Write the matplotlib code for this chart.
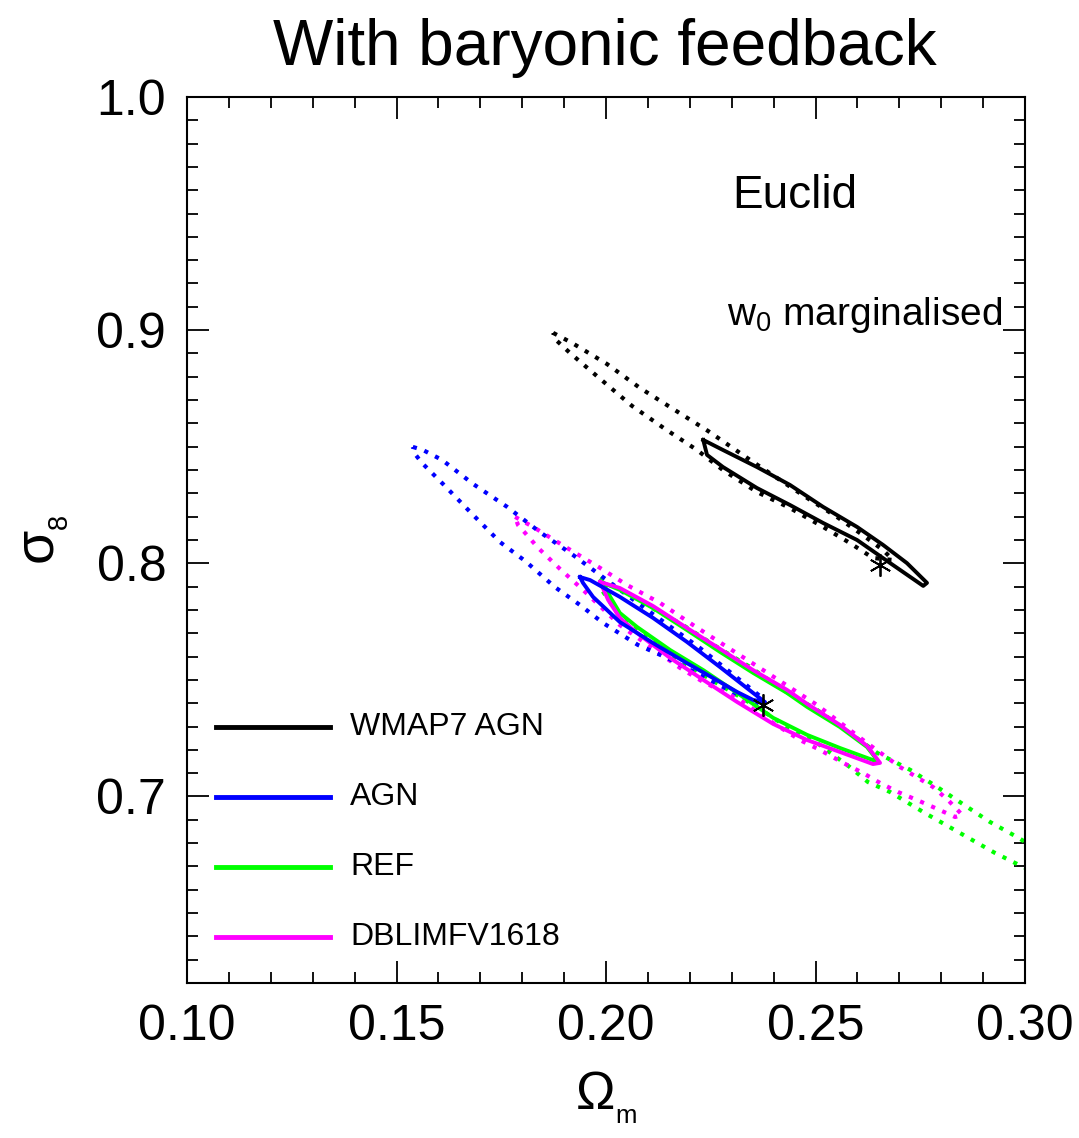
import numpy as np
import matplotlib
matplotlib.use('Agg')
import matplotlib.pyplot as plt
from matplotlib.ticker import MultipleLocator, FormatStrFormatter

plt.rcParams['font.family'] = ['Liberation Sans', 'DejaVu Sans']
plt.rcParams['mathtext.fontset'] = 'custom'
plt.rcParams['mathtext.rm'] = 'Liberation Sans'
plt.rcParams['mathtext.it'] = 'Liberation Sans'

# contour outlines (Omega_m, sigma_8)
# WMAP7 AGN
wmap_dot_x = [0.1874, 0.1919, 0.2002, 0.2081, 0.2160, 0.2243, 0.2344, 0.2422, 0.2487, 0.2551, 0.2613, 0.2661, 0.2685,
              0.2637, 0.2582, 0.2518, 0.2439, 0.2360, 0.2279, 0.2217, 0.2141, 0.2062, 0.1986, 0.1914, 0.1878]
wmap_dot_y = [0.8988, 0.8945, 0.8855, 0.8752, 0.8662, 0.8568, 0.8443, 0.8349, 0.8272, 0.8199, 0.8121, 0.8057, 0.8014,
              0.8023, 0.8087, 0.8156, 0.8237, 0.8306, 0.8400, 0.8486, 0.8576, 0.8675, 0.8791, 0.8902, 0.8962]
wmap_sol_x = [0.2232, 0.2279, 0.2360, 0.2439, 0.2518, 0.2599, 0.2661, 0.2718, 0.2766,
              0.2757, 0.2678, 0.2599, 0.2518, 0.2439, 0.2360, 0.2279, 0.2241]
wmap_sol_y = [0.8529, 0.8486, 0.8413, 0.8336, 0.8242, 0.8156, 0.8079, 0.8001, 0.7916,
              0.7903, 0.8001, 0.8100, 0.8173, 0.8250, 0.8323, 0.8413, 0.8465]

# AGN
agn_dot_x = [0.1539, 0.1563, 0.1609, 0.1683, 0.1764, 0.1842, 0.1921, 0.2002, 0.2105, 0.2224, 0.2379,
             0.2375, 0.2303, 0.2224, 0.2146, 0.2076, 0.1993, 0.1938, 0.1878, 0.1807, 0.1747, 0.1678, 0.1611, 0.1561, 0.1544]
agn_dot_y = [0.8499, 0.8486, 0.8443, 0.8340, 0.8242, 0.8134, 0.8036, 0.7928, 0.7791, 0.7637, 0.7414,
             0.7384, 0.7448, 0.7521, 0.7594, 0.7650, 0.7744, 0.7821, 0.7898, 0.8010, 0.8091, 0.8216, 0.8340, 0.8430, 0.8469]
agn_sol_x = [0.1938, 0.1962, 0.2033, 0.2112, 0.2193, 0.2272, 0.2351, 0.2379,
             0.2351, 0.2313, 0.2272, 0.2193, 0.2112, 0.2033, 0.1969, 0.1945]
agn_sol_y = [0.7941, 0.7928, 0.7856, 0.7766, 0.7663, 0.7555, 0.7444, 0.7405,
             0.7414, 0.7448, 0.7491, 0.7572, 0.7658, 0.7748, 0.7856, 0.7916]

# REF
ref_dot_x = [0.1986, 0.2105, 0.2184, 0.2265, 0.2344, 0.2422, 0.2504, 0.2582, 0.2647, 0.2726, 0.2790, 0.2862, 0.2916,
             0.2981, 0.3048, 0.3084, 0.3048, 0.2995, 0.2928, 0.2845, 0.2761, 0.2678, 0.2625, 0.2582, 0.2504, 0.2432,
             0.2360, 0.2272, 0.2153, 0.2033, 0.1990]
ref_dot_y = [0.7937, 0.7813, 0.7735, 0.7641, 0.7555, 0.7457, 0.7371, 0.7272, 0.7187, 0.7114, 0.7041, 0.6955, 0.6891,
             0.6826, 0.6753, 0.6702, 0.6659, 0.6698, 0.6758, 0.6843, 0.6929, 0.7019, 0.7062, 0.7126, 0.7229, 0.7298,
             0.7384, 0.7478, 0.7607, 0.7770, 0.7886]
ref_sol_x = [0.1993, 0.2033, 0.2112, 0.2193, 0.2272, 0.2351, 0.2432, 0.2480, 0.2558, 0.2623, 0.2647,
             0.2637, 0.2558, 0.2480, 0.2399, 0.2313, 0.2232, 0.2153, 0.2074, 0.2033, 0.2010]
ref_sol_y = [0.7916, 0.7886, 0.7808, 0.7714, 0.7620, 0.7530, 0.7444, 0.7384, 0.7298, 0.7212, 0.7156,
             0.7156, 0.7208, 0.7264, 0.7337, 0.7444, 0.7542, 0.7628, 0.7727, 0.7787, 0.7856]

# DBLIMFV1618
dbl_dot_x = [0.1783, 0.1826, 0.1907, 0.1986, 0.2050, 0.2129, 0.2208, 0.2289, 0.2375, 0.2504, 0.2623, 0.2702, 0.2780,
             0.2816, 0.2850, 0.2833, 0.2785, 0.2742, 0.2697, 0.2654, 0.2613, 0.2566, 0.2511, 0.2463, 0.2399, 0.2320,
             0.2232, 0.2177, 0.2033, 0.1945, 0.1890, 0.1838, 0.1807, 0.1790]
dbl_dot_y = [0.8199, 0.8156, 0.8066, 0.7980, 0.7907, 0.7830, 0.7735, 0.7641, 0.7542, 0.7392, 0.7229, 0.7126, 0.7041,
             0.6985, 0.6921, 0.6912, 0.6951, 0.6985, 0.7019, 0.7058, 0.7101, 0.7144, 0.7199, 0.7242, 0.7315, 0.7414,
             0.7491, 0.7551, 0.7735, 0.7886, 0.7976, 0.8066, 0.8130, 0.8164]
dbl_sol_x = [0.1986, 0.2033, 0.2112, 0.2193, 0.2272, 0.2351, 0.2432, 0.2480, 0.2558, 0.2623, 0.2654,
             0.2637, 0.2558, 0.2480, 0.2399, 0.2313, 0.2232, 0.2153, 0.2074, 0.2033, 0.2005]
dbl_sol_y = [0.7920, 0.7894, 0.7817, 0.7723, 0.7633, 0.7542, 0.7457, 0.7397, 0.7307, 0.7217, 0.7144,
             0.7139, 0.7191, 0.7242, 0.7311, 0.7405, 0.7500, 0.7594, 0.7701, 0.7766, 0.7843]

# fiducial points
fid_x = [0.2655, 0.2375]
fid_y = [0.7993, 0.7392]

names = ['WMAP7 AGN', 'AGN', 'REF', 'DBLIMFV1618']
colors = ['black', '#0000ff', '#00ff00', '#ff00ff']


def closed(a):
    return np.append(a, a[0])


fig = plt.figure(figsize=(10.79, 11.38), dpi=100)
ax = fig.add_axes([0.1733, 0.1362, 0.7767, 0.7786])

dot = (0, (1, 1.9))
ax.plot(closed(wmap_dot_x), closed(wmap_dot_y), color=colors[0], lw=3, ls=dot)
ax.plot(closed(wmap_sol_x), closed(wmap_sol_y), color=colors[0], lw=2.8)
ax.plot(closed(ref_dot_x), closed(ref_dot_y), color=colors[2], lw=3, ls=dot)
ax.plot(closed(dbl_dot_x), closed(dbl_dot_y), color=colors[3], lw=3, ls=dot)
ax.plot(closed(agn_dot_x), closed(agn_dot_y), color=colors[1], lw=3, ls=dot)
ax.plot(closed(ref_sol_x), closed(ref_sol_y), color=colors[2], lw=2.8)
ax.plot(closed(dbl_sol_x), closed(dbl_sol_y), color=colors[3], lw=2.8)
ax.plot(closed(agn_sol_x), closed(agn_sol_y), color=colors[1], lw=2.8)
ax.plot(fid_x, fid_y, ls='none', marker=(6, 2, 0), ms=16, mew=1.3, color='black')

ax.set_xlim(0.10, 0.30)
ax.set_ylim(0.62, 1.0)
ax.xaxis.set_major_locator(MultipleLocator(0.05))
ax.xaxis.set_minor_locator(MultipleLocator(0.01))
ax.yaxis.set_major_locator(MultipleLocator(0.1))
ax.yaxis.set_minor_locator(MultipleLocator(0.01))
ax.xaxis.set_major_formatter(FormatStrFormatter('%.2f'))
ax.yaxis.set_major_formatter(FormatStrFormatter('%.1f'))
ax.tick_params(which='both', direction='in', top=True, right=True, labelsize=36, pad=15, width=1.3)
ax.tick_params(which='major', length=16)
ax.tick_params(which='minor', length=8)
for s in ax.spines.values():
    s.set_linewidth(1.5)

ax.set_xlabel(r'$\Omega_{_{\rm m}}$', fontsize=38, labelpad=14)
ax.set_ylabel(r'$\sigma_{_8}$', fontsize=40, labelpad=18)
fig.text(0.5607, 0.9429, 'With baryonic feedback', fontsize=46, ha='center', va='baseline')

ax.text(0.7255, 0.888, 'Euclid', fontsize=33, ha='center', va='center', transform=ax.transAxes)
ax.text(0.6444, 0.7427, r'w$_0$ marginalised', fontsize=28, ha='left', va='baseline', transform=ax.transAxes)

# legend
leg_y = [0.2889, 0.2099, 0.1309, 0.0519]
for name, c, yy in zip(names, colors, leg_y):
    ax.plot([0.0346, 0.1706], [yy, yy], color=c, lw=3.5, transform=ax.transAxes)
    ax.text(0.1945, yy, name, fontsize=23, va='center', ha='left', transform=ax.transAxes)

fig.savefig('out.png', dpi=100)
